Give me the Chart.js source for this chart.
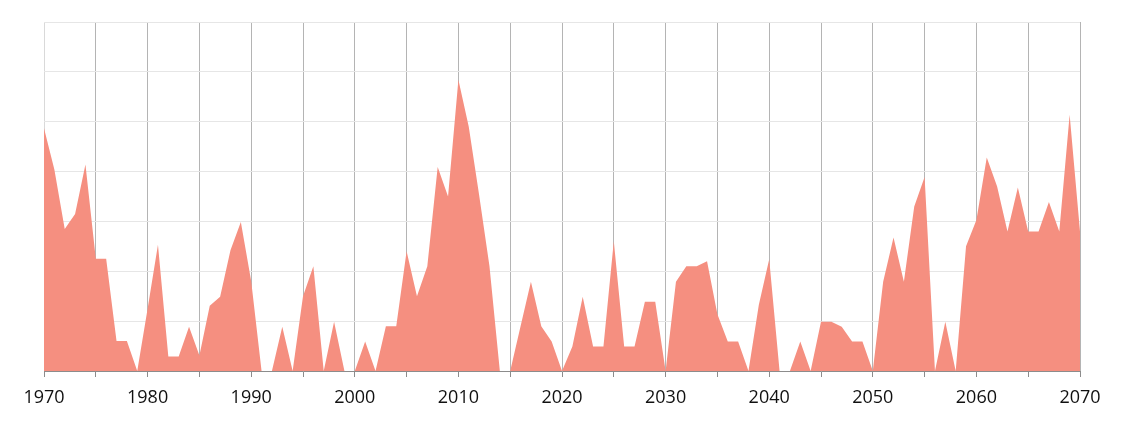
<!DOCTYPE html>
<html>
<head>
<meta charset="utf-8">
<script src="https://cdn.jsdelivr.net/npm/chart.js@4/dist/chart.umd.min.js"></script>
<style>
  html, body { margin: 0; padding: 0; background: #ffffff; }
  #wrap { width: 1124px; height: 423px; position: relative; }
</style>
</head>
<body>
<div id="wrap"><canvas id="c" width="1124" height="423"></canvas></div>
<script>
// Years (categories)
const years = [];
for (let y = 1970; y <= 2070; y++) years.push(y);

// Series values, one per year
const values = [
  4.87, 4.04, 2.85, 3.15, 4.14, 2.25, 2.25, 0.60, 0.60, 0.00, // 1970-1979
  1.25, 2.53, 0.29, 0.29, 0.89, 0.31, 1.31, 1.49, 2.42, 2.99, // 1980-1989
  1.80, 0.00, 0.00, 0.89, 0.00, 1.50, 2.10, 0.00, 0.99, 0.00, // 1990-1999
  0.00, 0.59, 0.00, 0.90, 0.90, 2.40, 1.50, 2.10, 4.09, 3.50, // 2000-2009
  5.84, 4.90, 3.53, 2.10, 0.00, 0.00, 0.90, 1.79, 0.90, 0.59, // 2010-2019
  0.00, 0.49, 1.49, 0.49, 0.49, 2.60, 0.49, 0.49, 1.39, 1.39, // 2020-2029
  0.00, 1.79, 2.10, 2.10, 2.20, 1.14, 0.59, 0.59, 0.00, 1.33, // 2030-2039
  2.24, 0.00, 0.00, 0.59, 0.00, 0.99, 0.99, 0.89, 0.59, 0.59, // 2040-2049
  0.00, 1.79, 2.68, 1.79, 3.30, 3.89, 0.00, 0.99, 0.00, 2.50, // 2050-2059
  3.03, 4.28, 3.70, 2.80, 3.68, 2.80, 2.80, 3.39, 2.80, 5.14, // 2060-2069
  2.80                                                        // 2070
];

// Axis settings
const xMin = 1970, xMax = 2070, xGridStep = 5, xLabelStep = 10;
const yMin = 0, yMax = 7, yStep = 1;

const points = years.map((y, i) => ({ x: y, y: values[i] }));

new Chart(document.getElementById('c'), {
  type: 'line',
  data: {
    datasets: [{
      data: points,
      fill: 'origin',
      backgroundColor: '#F58F80',
      borderWidth: 0,
      borderColor: 'rgba(0,0,0,0)',
      pointRadius: 0,
      tension: 0
    }]
  },
  options: {
    responsive: false,
    animation: false,
    layout: { padding: { left: 44, right: 44, top: 22, bottom: 0 } },
    plugins: { legend: { display: false }, tooltip: { enabled: false } },
    scales: {
      x: {
        type: 'linear',
        min: xMin, max: xMax,
        ticks: {
          stepSize: xGridStep,
          autoSkip: false,
          maxRotation: 0,
          padding: 10,
          color: '#111111',
          font: { family: 'Open Sans', size: 18 },
          callback: (v) => (v % xLabelStep === 0 ? String(v) : '')
        },
        grid: {
          color: (ctx) => (ctx.tick && ctx.tick.value === xMin ? '#d9d9d9' : '#b4b4b4'),
          lineWidth: 1,
          drawTicks: true,
          tickLength: 6,
          tickColor: '#8c8c8c'
        },
        border: { display: true, color: '#8c8c8c', width: 1 },
        afterFit: (s) => { s.height = 52; }
      },
      y: {
        min: yMin, max: yMax,
        ticks: { display: false, stepSize: yStep },
        grid: { color: '#e6e6e6', lineWidth: 1, drawTicks: false },
        border: { display: false },
        afterFit: (s) => { s.width = 0; }
      }
    }
  }
});
</script>
</body>
</html>
